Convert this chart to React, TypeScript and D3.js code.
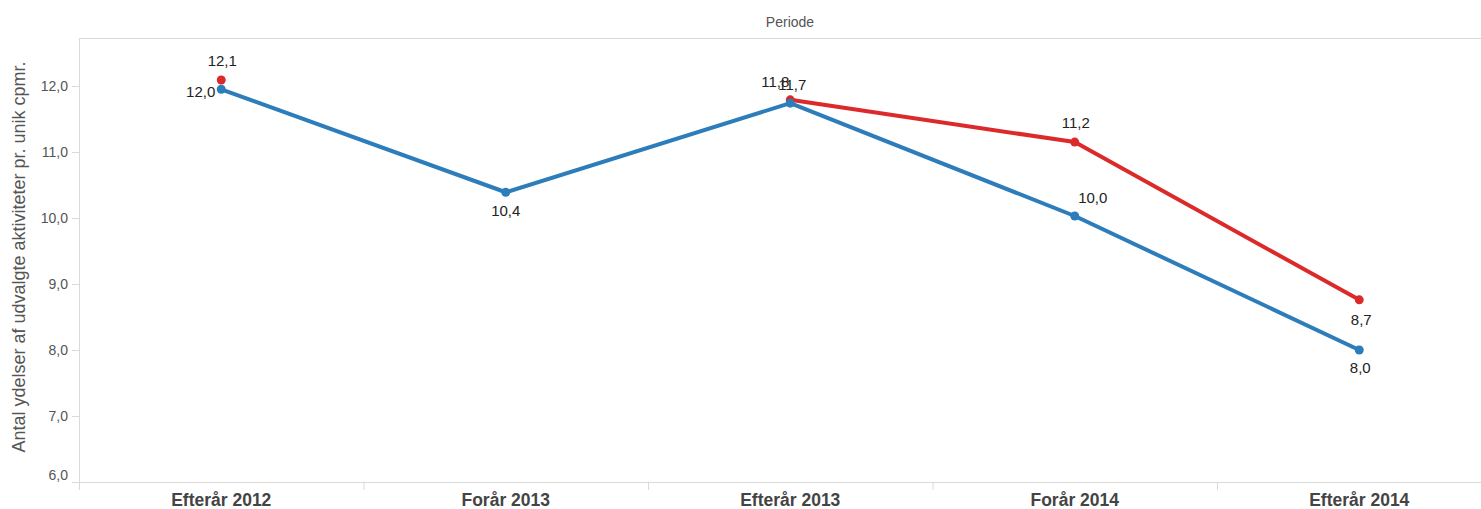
import React from "react";
import * as d3 from "d3";

const periods = ["Efterår 2012", "Forår 2013", "Efterår 2013", "Forår 2014", "Efterår 2014"];
const blueValues = [11.95, 10.39, 11.74, 10.03, 8.0];
const redValues: (number | null)[] = [12.09, null, 11.79, 11.15, 8.76];
const blueLabels = ["12,0", "10,4", "11,7", "10,0", "8,0"];
const redLabels = ["12,1", "", "11,8", "11,2", "8,7"];
const yTicks = [6, 7, 8, 9, 10, 11, 12];

// label placement relative to the point (dx, dy, anchor)
const blueLabelPos: [number, number, string][] = [
  [-6, 2, "end"],
  [0, 19, "middle"],
  [2, -18, "middle"],
  [18, -18, "middle"],
  [1, 18, "middle"],
];
const redLabelPos: [number, number, string][] = [
  [1, -19, "middle"],
  [0, 0, "middle"],
  [-15, -18, "middle"],
  [1, -19, "middle"],
  [2, 20, "middle"],
];

const W = 1481;
const H = 509;
const left = 79;
const top = 38;
const bottom = 482;
const font = "'Liberation Sans', Arial, sans-serif";
const blue = "#2d7dbb";
const red = "#dc2a2a";

export default function App() {
  const x = d3.scaleBand<string>().domain(periods).range([left, left + 5 * 284.5]);
  const y = d3.scaleLinear().domain([6, 12.727]).range([bottom, top]);
  const cx = (p: string) => (x(p) ?? 0) + x.bandwidth() / 2;

  const line = d3
    .line<number | null>()
    .defined((d) => d !== null)
    .x((_, i) => cx(periods[i]))
    .y((d) => y(d as number));

  return (
    <div style={{ position: "absolute", left: 0, top: 0 }}>
      <svg width={W} height={H} style={{ display: "block", fontFamily: font }}>
        <rect width={W} height={H} fill="#fff" />
        <text x={790} y={27} textAnchor="middle" fontSize={14} fill="#555">
          Periode
        </text>
        <line x1={left} x2={W} y1={top + 0.5} y2={top + 0.5} stroke="#d9d9d9" />
        <line x1={left + 0.5} x2={left + 0.5} y1={top} y2={490} stroke="#d9d9d9" />
        <line x1={left} x2={W} y1={bottom + 0.5} y2={bottom + 0.5} stroke="#d9d9d9" />
        {periods.map((p) => (
          <line
            key={p}
            x1={(x(p) ?? 0) + 0.5}
            x2={(x(p) ?? 0) + 0.5}
            y1={bottom}
            y2={490}
            stroke="#d9d9d9"
          />
        ))}
        {yTicks.map((t) => (
          <g key={t}>
            <line x1={72} x2={left} y1={y(t) + 0.5} y2={y(t) + 0.5} stroke="#d9d9d9" />
            <text
              x={68}
              y={t === 6 ? y(t) - 7 : y(t)}
              dy="0.35em"
              textAnchor="end"
              fontSize={14}
              fill="#555"
            >
              {d3.format(".1f")(t).replace(".", ",")}
            </text>
          </g>
        ))}
        <text
          transform={`translate(25,257) rotate(-90)`}
          textAnchor="middle"
          fontSize={18}
          fill="#555"
        >
          Antal ydelser af udvalgte aktiviteter pr. unik cpmr.
        </text>
        {periods.map((p) => (
          <text
            key={p}
            x={cx(p)}
            y={506}
            textAnchor="middle"
            fontSize={17.5}
            fontWeight="bold"
            fill="#444"
          >
            {p}
          </text>
        ))}
        <path d={line(blueValues) ?? ""} fill="none" stroke={blue} strokeWidth={4} strokeLinejoin="round" />
        <path d={line(redValues) ?? ""} fill="none" stroke={red} strokeWidth={4} strokeLinejoin="round" />
        {redValues.map((v, i) =>
          v === null ? null : <circle key={"r" + i} cx={cx(periods[i])} cy={y(v)} r={4.5} fill={red} />
        )}
        {blueValues.map((v, i) => (
          <circle key={"b" + i} cx={cx(periods[i])} cy={y(v)} r={4.5} fill={blue} />
        ))}
        {blueValues.map((v, i) => (
          <text
            key={"bl" + i}
            x={cx(periods[i]) + blueLabelPos[i][0]}
            y={y(v) + blueLabelPos[i][1]}
            dy="0.35em"
            textAnchor={blueLabelPos[i][2]}
            fontSize={15}
            fill="#222"
          >
            {blueLabels[i]}
          </text>
        ))}
        {redValues.map((v, i) =>
          v === null ? null : (
            <text
              key={"rl" + i}
              x={cx(periods[i]) + redLabelPos[i][0]}
              y={y(v) + redLabelPos[i][1]}
              dy="0.35em"
              textAnchor={redLabelPos[i][2]}
              fontSize={15}
              fill="#222"
            >
              {redLabels[i]}
            </text>
          )
        )}
      </svg>
    </div>
  );
}
